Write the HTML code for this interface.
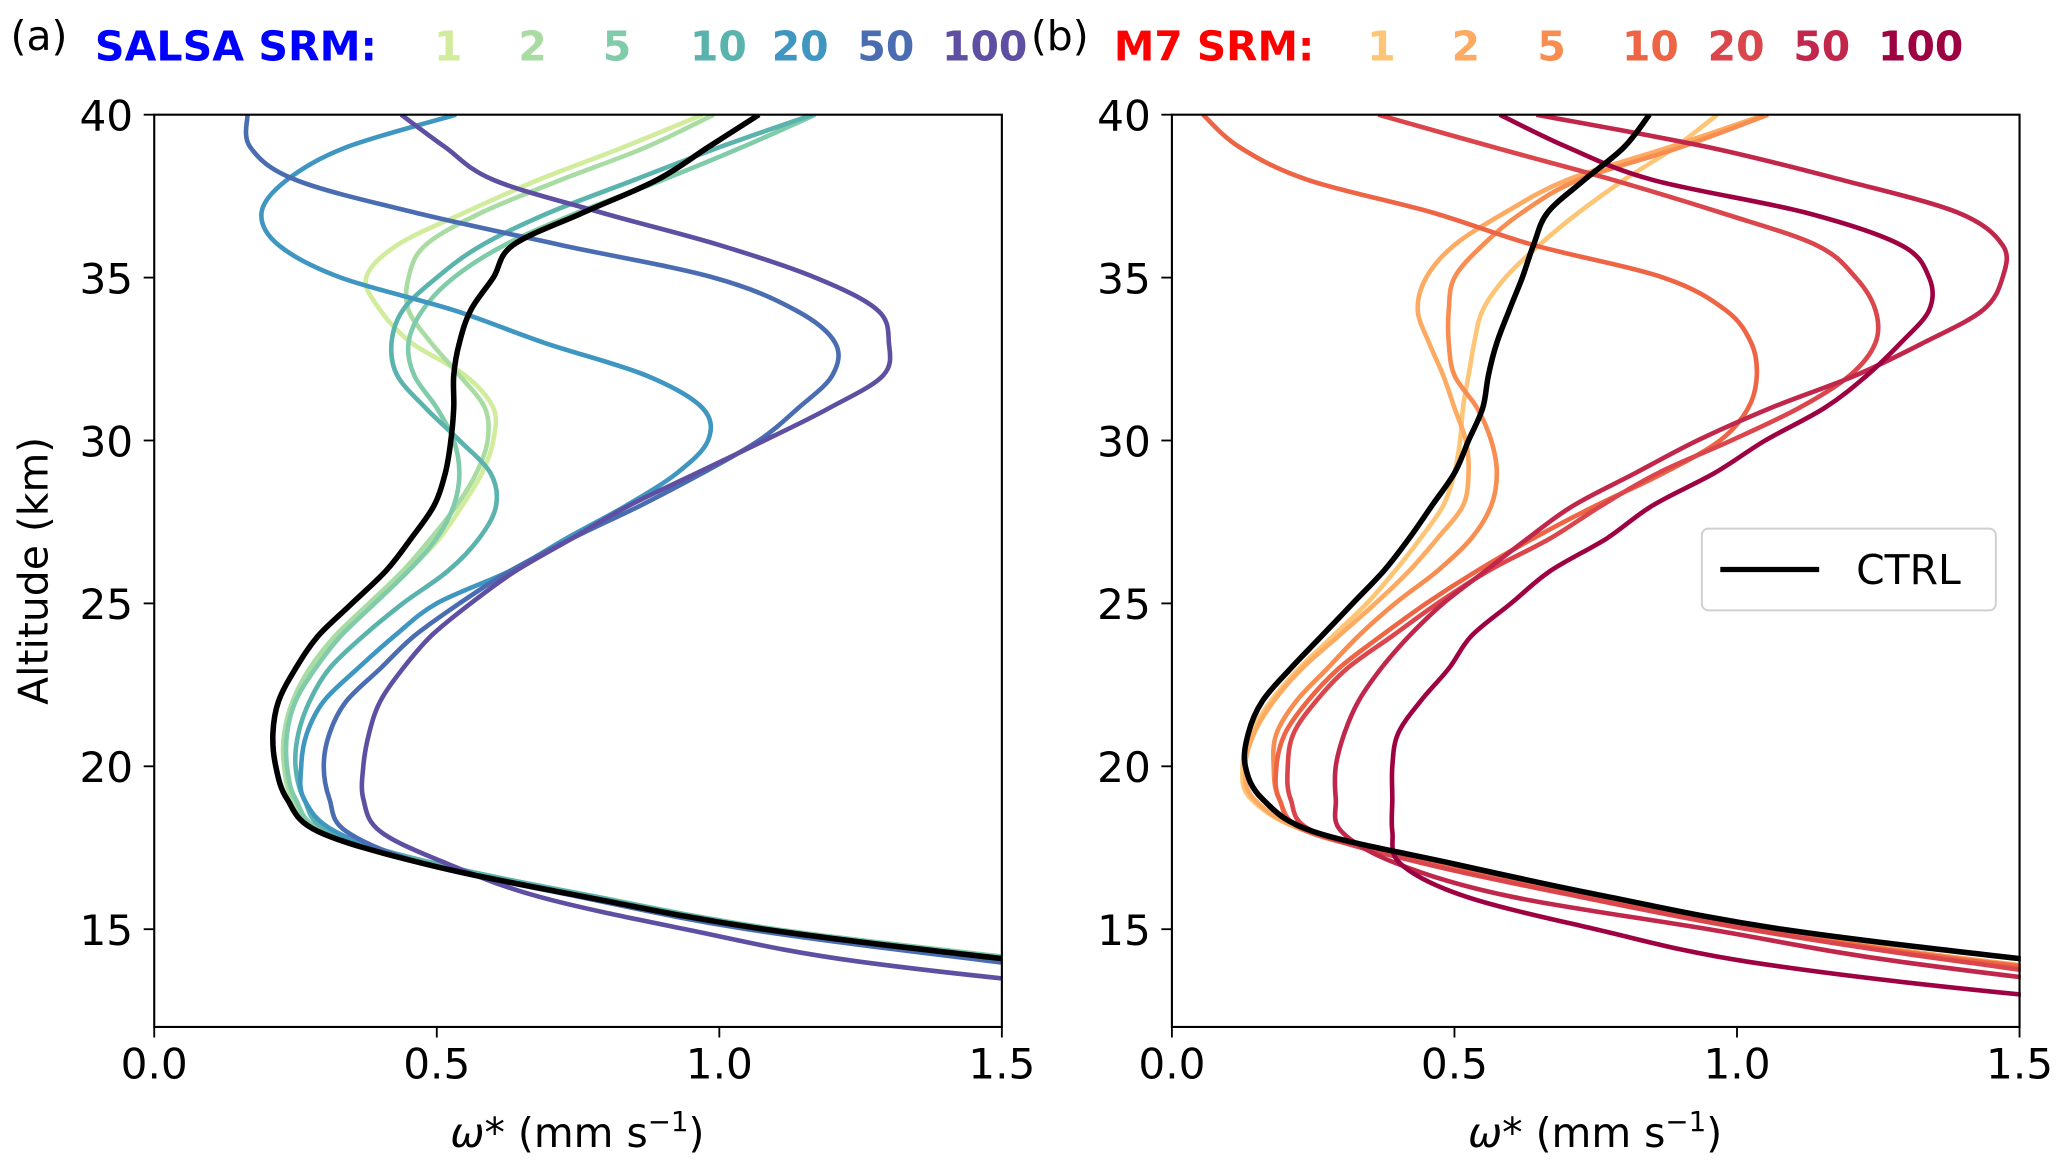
<!DOCTYPE html>
<html><head><meta charset="utf-8"><style>
html,body{margin:0;padding:0;background:#fff}
svg{display:block}
text{font-family:"DejaVu Sans","Liberation Sans",sans-serif}
</style></head><body>
<svg id="fig" width="2067" height="1168" viewBox="0 0 1568 886" preserveAspectRatio="none" xmlns="http://www.w3.org/2000/svg">
<defs>
<clipPath id="clipA"><rect x="117" y="87" width="643" height="692"/></clipPath>
<clipPath id="clipB"><rect x="889" y="87" width="644" height="692"/></clipPath>
</defs>
<g>
<text x="8" y="38" font-size="31">(a)</text>
<text x="72" y="46" font-size="31" font-weight="bold" fill="#0000ff" textLength="214" lengthAdjust="spacingAndGlyphs">SALSA SRM:</text>
</g>
<g>
<text x="782" y="38" font-size="31">(b)</text>
<text x="845" y="46" font-size="31" font-weight="bold" fill="#ff0000" textLength="152" lengthAdjust="spacingAndGlyphs">M7 SRM:</text>
</g>
<g id="gA"></g>
<g id="gB"></g>
<text transform="translate(36,433) rotate(-90)" text-anchor="middle" font-size="31">Altitude (km)</text>
<text x="438" y="870" text-anchor="middle" font-size="31"><tspan font-style="italic">ω</tspan>* (mm s<tspan dy="-12" font-size="21">−1</tspan><tspan dy="12">)</tspan></text>
<text x="1210" y="870" text-anchor="middle" font-size="31"><tspan font-style="italic">ω</tspan>* (mm s<tspan dy="-12" font-size="21">−1</tspan><tspan dy="12">)</tspan></text>
<g>
<rect x="1291" y="401" width="223" height="62" rx="5" fill="#fff" stroke="#d0d0d0" stroke-width="1.5"/>
<line x1="1305" y1="432" x2="1380" y2="432" stroke="#000" stroke-width="4"/>
<text x="1408" y="443" font-size="31">CTRL</text>
</g>
</svg>
<script>
const altitudes=[40,39,38,37,36,35,34,33,32,31,30,29,28,27,26,25,24,23,22,21,20,19,18,17,16,15,14,13,12];
const xTicks=[0.0,0.5,1.0,1.5];
const xTickLabels=["0.0","0.5","1.0","1.5"];
const yTicks=[15,20,25,30,35,40];
const srmLabels=["1","2","5","10","20","50","100"];
const ctrlA=[1.07,0.98,0.89,0.76,0.635,0.60,0.56,0.54,0.53,0.53,0.525,0.515,0.495,0.455,0.41,0.35,0.29,0.25,0.22,0.21,0.215,0.235,0.29,0.48,0.76,1.08,1.55,2.1,3];
const salsa1=[0.97,0.83,0.68,0.55,0.43,0.375,0.40,0.455,0.55,0.60,0.60,0.58,0.545,0.505,0.45,0.39,0.33,0.28,0.25,0.23,0.23,0.245,0.30,0.50,0.78,1.10,1.58,2.1,3];
const salsa2=[0.99,0.87,0.72,0.58,0.48,0.45,0.45,0.49,0.54,0.585,0.59,0.57,0.535,0.49,0.44,0.38,0.32,0.275,0.245,0.23,0.23,0.245,0.30,0.50,0.78,1.10,1.58,2.1,3];
const salsa5=[1.17,1.04,0.90,0.75,0.62,0.53,0.475,0.45,0.46,0.50,0.53,0.54,0.53,0.50,0.45,0.39,0.33,0.285,0.25,0.235,0.235,0.25,0.30,0.50,0.78,1.10,1.58,2.1,3];
const salsa10=[1.165,1.0,0.85,0.70,0.58,0.50,0.44,0.42,0.43,0.48,0.54,0.595,0.605,0.575,0.52,0.44,0.37,0.31,0.275,0.255,0.25,0.265,0.31,0.50,0.78,1.09,1.56,2.1,3];
const salsa20=[0.534,0.34,0.235,0.19,0.22,0.33,0.53,0.69,0.87,0.97,0.98,0.925,0.835,0.73,0.63,0.50,0.425,0.36,0.30,0.27,0.26,0.265,0.32,0.48,0.76,1.07,1.52,2.0,3];
const salsa50=[0.165,0.17,0.25,0.46,0.72,0.99,1.135,1.205,1.20,1.14,1.07,0.97,0.86,0.74,0.63,0.54,0.46,0.40,0.34,0.31,0.30,0.31,0.34,0.48,0.75,1.05,1.49,2.0,3];
const salsa100=[0.437,0.515,0.60,0.79,1.0,1.17,1.28,1.30,1.29,1.195,1.08,0.96,0.84,0.74,0.64,0.56,0.49,0.44,0.40,0.38,0.37,0.37,0.40,0.52,0.68,0.94,1.25,1.8,2.6];
const ctrlB=[0.845,0.80,0.73,0.665,0.64,0.62,0.597,0.575,0.56,0.55,0.525,0.50,0.46,0.42,0.375,0.32,0.265,0.21,0.16,0.135,0.13,0.16,0.25,0.50,0.77,1.08,1.55,2.1,3];
const m7_1=[0.965,0.89,0.80,0.72,0.65,0.59,0.55,0.535,0.525,0.515,0.51,0.50,0.48,0.44,0.395,0.345,0.285,0.225,0.175,0.14,0.125,0.14,0.24,0.48,0.74,1.04,1.45,2.0,3];
const m7_2=[1.05,0.88,0.70,0.59,0.50,0.45,0.435,0.455,0.48,0.50,0.52,0.525,0.515,0.47,0.42,0.36,0.295,0.23,0.18,0.145,0.13,0.145,0.24,0.48,0.74,1.04,1.45,2.0,3];
const m7_5=[1.055,0.90,0.72,0.62,0.55,0.50,0.49,0.49,0.50,0.54,0.565,0.575,0.565,0.53,0.47,0.395,0.33,0.275,0.22,0.185,0.18,0.19,0.24,0.47,0.73,1.03,1.44,2.0,3];
const m7_10=[0.055,0.12,0.24,0.46,0.64,0.87,0.98,1.025,1.035,1.02,0.97,0.87,0.75,0.64,0.54,0.45,0.37,0.295,0.24,0.20,0.185,0.19,0.24,0.47,0.73,1.03,1.43,2.0,3];
const m7_20=[0.365,0.57,0.78,0.97,1.14,1.21,1.245,1.245,1.20,1.11,0.99,0.86,0.76,0.67,0.56,0.47,0.39,0.31,0.255,0.215,0.205,0.21,0.25,0.45,0.72,1.02,1.40,1.9,3];
const m7_50=[0.645,0.95,1.185,1.39,1.47,1.47,1.435,1.33,1.21,1.06,0.93,0.82,0.71,0.63,0.555,0.48,0.42,0.37,0.33,0.305,0.29,0.29,0.30,0.40,0.60,0.95,1.29,1.8,2.6];
const m7_100=[0.58,0.70,0.85,1.12,1.29,1.34,1.34,1.29,1.23,1.155,1.05,0.96,0.85,0.77,0.67,0.60,0.53,0.49,0.44,0.40,0.39,0.39,0.39,0.405,0.52,0.75,1.02,1.5,2.2];
const salsaColors=["#d1ec9c","#a9dca3","#80cba9","#5bb3ad","#3f96c0","#4a6db2","#5e4fa2"];
const m7Colors=["#fdc676","#fdab62","#f88d52","#ee6545","#da464c","#c0274b","#9e0142"];
const salsaSeries=[salsa1,salsa2,salsa5,salsa10,salsa20,salsa50,salsa100];
const m7Series=[m7_1,m7_2,m7_5,m7_10,m7_20,m7_50,m7_100];

const NS="http://www.w3.org/2000/svg";
const TOP=87,BOT=779,YMIN=12,YMAX=40,XMAX=1.5,W=643;
function yScale(a){return TOP+(YMAX-a)*(BOT-TOP)/(YMAX-YMIN);}
function mk(tag,attrs,parent){const e=document.createElementNS(NS,tag);for(const k in attrs)e.setAttribute(k,attrs[k]);parent.appendChild(e);return e;}
function pathD(pts){let d="M"+pts[0][0].toFixed(1)+","+pts[0][1].toFixed(1);
 for(let i=0;i<pts.length-1;i++){const p0=pts[Math.max(i-1,0)],p1=pts[i],p2=pts[i+1],p3=pts[Math.min(i+2,pts.length-1)];
  const c1=[p1[0]+(p2[0]-p0[0])/6,p1[1]+(p2[1]-p0[1])/6],c2=[p2[0]-(p3[0]-p1[0])/6,p2[1]-(p3[1]-p1[1])/6];
  d+=" C"+c1[0].toFixed(1)+","+c1[1].toFixed(1)+" "+c2[0].toFixed(1)+","+c2[1].toFixed(1)+" "+p2[0].toFixed(1)+","+p2[1].toFixed(1);}
 return d;}
function panel(g,x0,clip,series,colors,ctrl,tag,headerX){
 const xScale=v=>x0+v*W/XMAX;
 const lines=mk("g",{"clip-path":"url(#"+clip+")"},g);
 series.forEach((s,i)=>{const pts=s.map((v,j)=>[xScale(v),yScale(altitudes[j])]);
  const p=mk("path",{d:pathD(pts),fill:"none",stroke:colors[i],"stroke-width":3.5,"stroke-linejoin":"round"},lines);
  
  });
 const cp=mk("path",{d:pathD(ctrl.map((v,j)=>[xScale(v),yScale(altitudes[j])])),fill:"none",stroke:"#000","stroke-width":4.2,"stroke-linejoin":"round"},lines);
 
 
 const fr=mk("rect",{x:x0,y:TOP,width:W,height:BOT-TOP,fill:"none",stroke:"#000","stroke-width":1.6},g);
 
 
 xTicks.forEach((t,i)=>{const x=xScale(t);
  const l=mk("line",{x1:x,y1:BOT,x2:x,y2:BOT+8,stroke:"#000","stroke-width":1.4},g);
  
  
  const tx=mk("text",{x:x,y:BOT+39,"text-anchor":"middle","font-size":32},g);tx.textContent=xTickLabels[i];
  
  });
 yTicks.forEach(t=>{const y=yScale(t);
  const l=mk("line",{x1:x0-8,y1:y,x2:x0,y2:y,stroke:"#000","stroke-width":1.4},g);
  
  
  const tx=mk("text",{x:x0-16,y:y+12,"text-anchor":"end","font-size":32},g);tx.textContent=String(t);
  
  });
 srmLabels.forEach((lab,i)=>{const tx=mk("text",{x:headerX[i],y:46,"text-anchor":"middle","font-size":31,"font-weight":"bold",fill:colors[i]},document.getElementById("fig"));
  tx.textContent=lab;
  
  });
}
panel(document.getElementById("gA"),117,"clipA",salsaSeries,salsaColors,ctrlA,"panel-a",[340,404,468,545,607,672,747]);
panel(document.getElementById("gB"),889,"clipB",m7Series,m7Colors,ctrlB,"panel-b",[1048,1112,1177,1252,1317,1382,1457]);
</script>
</body></html>
